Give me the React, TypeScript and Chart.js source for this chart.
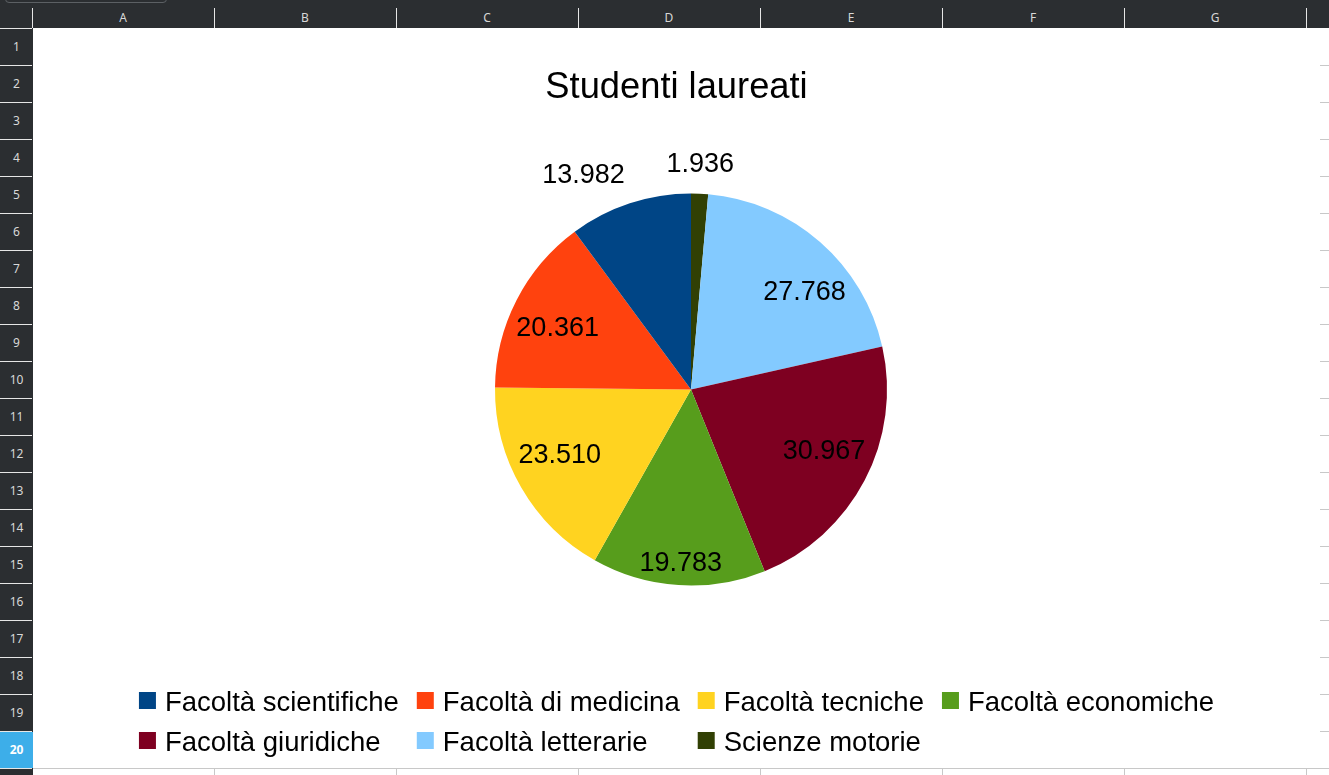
import React, { useEffect, useRef } from "react";
import { Chart, registerables } from "chart.js";

Chart.register(...registerables);

const TITLE = "Studenti laureati";
const categories = [
  "Facoltà scientifiche",
  "Facoltà di medicina",
  "Facoltà tecniche",
  "Facoltà economiche",
  "Facoltà giuridiche",
  "Facoltà letterarie",
  "Scienze motorie",
];
const graduates = [13982, 20361, 23510, 19783, 30967, 27768, 1936];
const sliceColors = ["#004586", "#ff420e", "#ffd320", "#579d1c", "#7e0021", "#83caff", "#314004"];
const columnLetters = ["A", "B", "C", "D", "E", "F", "G"];
const rowNumbers = [1, 2, 3, 4, 5, 6, 7, 8, 9, 10, 11, 12, 13, 14, 15, 16, 17, 18, 19, 20];

const FONT = "'Liberation Sans', Arial, sans-serif";
const LEGEND_COLUMNS = 4;
const ROW_H = 37;
const COL_W = 182;
const HEADER_H = 28;
const ROWHDR_W = 32;
const CHART_LEFT = 33;
const CHART_TOP = 28;
const CHART_W = 1287;
const CHART_H = 740;

const fmt = (v: number) => String(v).replace(/\B(?=(\d{3})+(?!\d))/g, ".");

const overlayPlugin = {
  id: "overlay",
  afterDatasetsDraw(chart: any) {
    const ctx = chart.ctx as CanvasRenderingContext2D;
    const meta = chart.getDatasetMeta(0);
    const data = chart.data.datasets[0].data as number[];
    const total = data.reduce((a, b) => a + b, 0);
    ctx.save();
    // data labels
    ctx.font = `27px ${FONT}`;
    ctx.fillStyle = "#000";
    ctx.textAlign = "center";
    ctx.textBaseline = "middle";
    meta.data.forEach((arc: any, i: number) => {
      const p = arc.getProps(["x", "y", "startAngle", "endAngle", "outerRadius"], true);
      const mid = (p.startAngle + p.endAngle) / 2;
      const ux = Math.cos(mid);
      const uy = Math.sin(mid);
      const text = fmt(data[i]);
      const w = ctx.measureText(text).width;
      const hw = w / 2;
      const hh = 14;
      const sx = Math.abs(ux) < 0.1 ? 0 : Math.sign(ux);
      const sy = Math.abs(uy) < 0.1 ? 0 : Math.sign(uy);
      let cx: number;
      let cy: number;
      if (data[i] / total >= 0.12) {
        // push the label outward until its outer corner reaches the rim margin
        const target = p.outerRadius * 0.97;
        let lo = 0;
        let hi = p.outerRadius;
        for (let k = 0; k < 30; k++) {
          const a = (lo + hi) / 2;
          const ox = ux * a + sx * hw + (sx === 0 ? hw : sx * hw);
          const oy = uy * a + sy * hh + (sy === 0 ? hh : sy * hh);
          if (Math.hypot(ox, oy) > target) hi = a;
          else lo = a;
        }
        const a = lo;
        cx = p.x + ux * a + sx * hw;
        cy = p.y + uy * a + sy * hh;
      } else {
        const d = p.outerRadius + 16;
        const ax = p.x + ux * d;
        const ay = p.y + uy * d;
        cx = ax + sx * hw;
        cy = ay + sy * 13;
      }
      ctx.fillText(text, cx, cy);
    });

    // title
    ctx.font = `36.3px ${FONT}`;
    ctx.textBaseline = "alphabetic";
    ctx.textAlign = "center";
    ctx.fillText(TITLE, chart.width / 2, 70);

    // legend (grid)
    ctx.font = `27.5px ${FONT}`;
    ctx.textAlign = "left";
    const box = 17;
    const gap = 9;
    const spacing = 18;
    const colText: number[] = [];
    categories.forEach((c, i) => {
      const col = i % LEGEND_COLUMNS;
      colText[col] = Math.max(colText[col] || 0, ctx.measureText(c).width);
    });
    const colWidths = colText.map((t) => box + gap + t);
    const totalW = colWidths.reduce((a, b) => a + b, 0) + spacing * (colWidths.length - 1);
    const startX = chart.width / 2 - totalW / 2;
    const firstBaseline = chart.height - 57;
    const rowStep = 40;
    categories.forEach((c, i) => {
      const col = i % LEGEND_COLUMNS;
      const row = Math.floor(i / LEGEND_COLUMNS);
      let x = startX;
      for (let k = 0; k < col; k++) x += colWidths[k] + spacing;
      const base = firstBaseline + row * rowStep;
      ctx.fillStyle = sliceColors[i];
      ctx.fillRect(x, base - 19, box, box);
      ctx.fillStyle = "#000";
      ctx.fillText(c, x + box + gap, base);
    });
    ctx.restore();
  },
};

function PieChart() {
  const ref = useRef<HTMLCanvasElement | null>(null);
  useEffect(() => {
    if (!ref.current) return;
    // Chart.js draws clockwise; reverse so slices run counter-clockwise like the original
    const chart = new Chart(ref.current, {
      type: "pie",
      data: {
        labels: [...categories].reverse(),
        datasets: [
          {
            data: [...graduates].reverse(),
            backgroundColor: [...sliceColors].reverse(),
            borderWidth: 0,
          },
        ],
      },
      options: {
        responsive: false,
        animation: false,
        devicePixelRatio: 1,
        radius: 196,
        layout: { padding: { left: 29, right: 0, top: 0, bottom: 17 } },
        plugins: {
          legend: { display: false },
          title: { display: false },
          tooltip: { enabled: false },
        },
      },
      plugins: [overlayPlugin],
    });
    return () => chart.destroy();
  }, []);
  return (
    <canvas
      ref={ref}
      width={CHART_W}
      height={CHART_H}
      style={{ width: CHART_W, height: CHART_H, display: "block" }}
    />
  );
}

export default function App() {
  const dark = "#2b2e31";
  const hdrText = "#d8d8d8";
  const grid = "#c8c8c8";
  return (
    <div
      style={{
        position: "fixed",
        left: 0,
        top: 0,
        width: 1329,
        height: 775,
        overflow: "hidden",
        background: "#ffffff",
        fontFamily: "'Noto Sans', sans-serif",
      }}
    >
      {/* column header bar */}
      <div style={{ position: "absolute", left: 0, top: 0, width: 1329, height: HEADER_H, background: dark }} />
      <div
        style={{
          position: "absolute",
          left: 5,
          top: -9,
          width: 160,
          height: 10,
          border: "1px solid #5c6064",
          borderRadius: 4,
        }}
      />
      {/* row header column */}
      <div style={{ position: "absolute", left: 0, top: HEADER_H, width: ROWHDR_W + 1, height: 775 - HEADER_H, background: dark }} />
      <div style={{ position: "absolute", left: 0, top: HEADER_H, width: ROWHDR_W, height: 1, background: "#e6e6e6" }} />
      <div style={{ position: "absolute", left: ROWHDR_W, top: 8, width: 1, height: HEADER_H - 8, background: "#e6e6e6" }} />
      {columnLetters.map((l, i) => (
        <React.Fragment key={l}>
          <div
            style={{
              position: "absolute",
              left: ROWHDR_W + i * COL_W,
              top: 8,
              width: COL_W,
              height: HEADER_H - 8,
              color: hdrText,
              fontSize: 12,
              lineHeight: `${HEADER_H - 8}px`,
              textAlign: "center",
            }}
          >
            {l}
          </div>
          <div
            style={{
              position: "absolute",
              left: ROWHDR_W + (i + 1) * COL_W,
              top: 8,
              width: 1,
              height: HEADER_H - 8,
              background: "#e6e6e6",
            }}
          />
        </React.Fragment>
      ))}
      {rowNumbers.map((n, i) => {
        const active = n === 20;
        return (
          <React.Fragment key={n}>
            <div
              style={{
                position: "absolute",
                left: 0,
                top: HEADER_H + i * ROW_H + 1,
                width: ROWHDR_W + 1,
                height: ROW_H - 1,
                background: active ? "#3daee9" : dark,
                color: active ? "#ffffff" : hdrText,
                fontWeight: active ? 700 : 400,
                fontSize: 12,
                lineHeight: `${ROW_H - 1}px`,
                textAlign: "center",
              }}
            >
              {n}
            </div>
            <div
              style={{
                position: "absolute",
                left: 0,
                top: HEADER_H + (i + 1) * ROW_H,
                width: ROWHDR_W,
                height: 1,
                background: "#e6e6e6",
              }}
            />
            <div
              style={{
                position: "absolute",
                left: ROWHDR_W + 1,
                top: HEADER_H + (i + 1) * ROW_H,
                width: 1329,
                height: 1,
                background: grid,
              }}
            />
          </React.Fragment>
        );
      })}
      {columnLetters.map((l, i) => (
        <div
          key={"g" + l}
          style={{
            position: "absolute",
            left: ROWHDR_W + (i + 1) * COL_W,
            top: HEADER_H,
            width: 1,
            height: 775 - HEADER_H,
            background: grid,
          }}
        />
      ))}
      {/* chart object */}
      <div
        style={{
          position: "absolute",
          left: CHART_LEFT,
          top: CHART_TOP,
          width: CHART_W,
          height: CHART_H,
          background: "#ffffff",
        }}
      >
        <PieChart />
      </div>
    </div>
  );
}
